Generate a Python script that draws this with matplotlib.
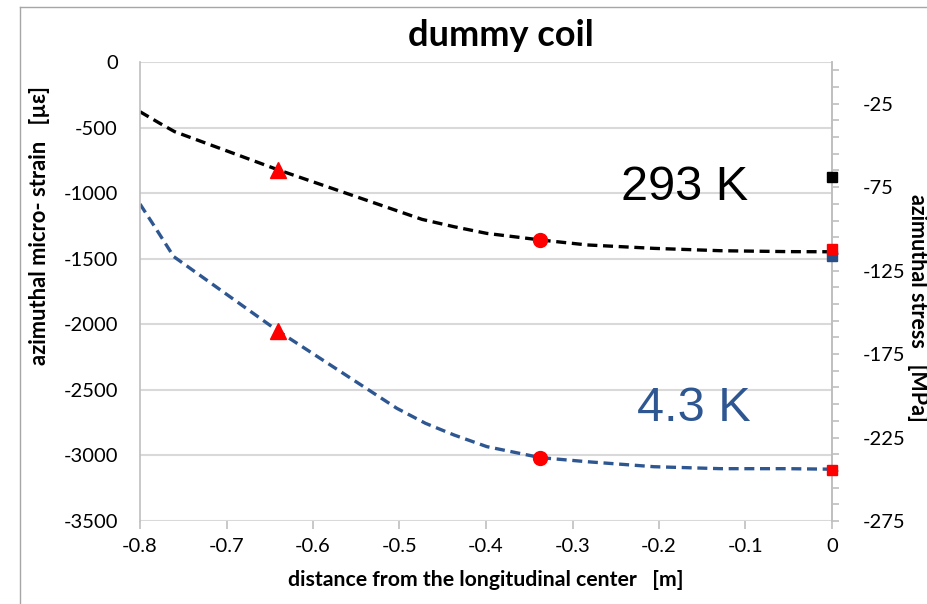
import numpy as np
import matplotlib
matplotlib.use("Agg")
import matplotlib.pyplot as plt
from matplotlib.lines import Line2D

plt.rcParams['axes.unicode_minus'] = False
plt.rcParams['font.family'] = ['Lato', 'DejaVu Sans']

# distance from the longitudinal center [m] and azimuthal micro-strain [µε]
x_293 = [-0.8, -0.777, -0.76, -0.7, -0.64, -0.55, -0.474, -0.437, -0.399,
         -0.337, -0.283, -0.206, -0.129, -0.05, 0.0]
y_293 = [-379, -468, -531, -677, -823, -1027, -1200, -1256, -1307,
         -1357, -1395, -1421, -1439, -1446, -1447]

x_43 = [-0.8, -0.783, -0.761, -0.7, -0.642, -0.57, -0.503, -0.470, -0.437,
        -0.399, -0.337, -0.283, -0.206, -0.129, -0.052, 0.0]
y_43 = [-1083, -1256, -1484, -1771, -2044, -2353, -2641, -2755, -2844,
        -2933, -3017, -3048, -3086, -3101, -3101, -3105]

# measured gauges (strain)
tri_x = [-0.641, -0.641]
tri_y = [-821, -2052]
circ_x = [-0.337, -0.337]
circ_y = [-1355, -3019]

# stresses at the center [MPa]
sq_red_mpa = [-112.2, -244.5]
sq_black_mpa = [-69.1]
sq_blue_mpa = [-116.5]

x_ticks = [-0.8, -0.7, -0.6, -0.5, -0.4, -0.3, -0.2, -0.1, 0.0]
x_tick_labels = ['-0.8', '-0.7', '-0.6', '-0.5', '-0.4', '-0.3', '-0.2', '-0.1', '0']
strain_ticks = [0, -500, -1000, -1500, -2000, -2500, -3000, -3500]
stress_labels = [-25, -75, -125, -175, -225, -275]

BLUE = '#2E5792'
RED = '#FF0000'
GRID = '#D9D9D9'
SPINE = '#BFBFBF'
DASH = (0, (3.0, 1.7))

fig = plt.figure(figsize=(9.28, 6.04), dpi=100)
ax = fig.add_axes([140/928, 1-521/604, (832-140)/928, (521-62)/604])

ax.plot(x_293, y_293, color='black', lw=2.4, ls=DASH)
ax.plot(x_43, y_43, color=BLUE, lw=2.4, ls=DASH)
ax.plot(tri_x, tri_y, ls='none', marker='^', ms=11.5, color=RED, zorder=5)
ax.plot(circ_x, circ_y, ls='none', marker='o', ms=10, color=RED, zorder=5)

ax.set_xlim(-0.8, 0.0)
ax.set_ylim(-3500, 0)
ax.set_xticks(x_ticks)
ax.set_xticklabels(x_tick_labels)
ax.set_yticks(strain_ticks)
ax.set_yticklabels([str(v) for v in strain_ticks])
ax.yaxis.grid(True, color=GRID, lw=1.5)
ax.set_axisbelow(True)
ax.tick_params(axis='y', length=0, pad=16, labelsize=14.5, colors='#000000')
ax.tick_params(axis='x', length=6, width=1.2, color=SPINE, pad=6, labelsize=14.5)
for s in ['top', 'bottom']:
    ax.spines[s].set_visible(False)
for s in ['left', 'right']:
    ax.spines[s].set_color(SPINE)
    ax.spines[s].set_linewidth(1.2)

ax2 = ax.twinx()
ax2.set_ylim(-275, 0)
ax2.set_yticks(np.arange(-275, 0, 10))
ax2.set_yticklabels([str(int(v)) if int(v) in stress_labels else ''
                     for v in np.arange(-275, 0, 10)])
ax2.tick_params(axis='y', length=5, width=1.2, color=SPINE, pad=17, labelsize=14.5)
for s in ['top', 'bottom', 'left']:
    ax2.spines[s].set_visible(False)
ax2.spines['right'].set_color(SPINE)
ax2.spines['right'].set_linewidth(1.2)

ax2.plot([0.0]*len(sq_black_mpa), sq_black_mpa, ls='none', marker='s', ms=6.5,
         color='black', clip_on=False, zorder=6)
ax2.plot([0.0]*len(sq_blue_mpa), sq_blue_mpa, ls='none', marker='s', ms=6.5,
         color='#2A4F86', clip_on=False, zorder=6)
ax2.plot([0.0]*len(sq_red_mpa), sq_red_mpa, ls='none', marker='s', ms=6.5,
         color=RED, clip_on=False, zorder=7)

ax.text(-0.170, -960, '293 K', fontsize=35, color='black',
        family='Liberation Sans', ha='center', va='center')
ax.text(-0.160, -2640, '4.3 K', fontsize=35, color=BLUE,
        family='Liberation Sans', ha='center', va='center')

fig.text(501/928, 1-36/604, 'dummy coil', fontsize=26, fontweight='bold',
         ha='center', va='center')
fig.text(486/928, 1-580/604, 'distance from the longitudinal center   [m]',
         fontsize=15.3, fontweight='bold', ha='center', va='center')
fig.text(40/928, 1-225/604, 'azimuthal micro- strain   [µε]', fontsize=15.8,
         fontweight='bold', ha='center', va='center', rotation=90)
fig.text(918/928, 1-308/604, 'azimuthal stress   [MPa]', fontsize=15.5,
         fontweight='bold', ha='center', va='center', rotation=-90)

# outer frame
fig.add_artist(Line2D([20/928, 20/928], [0, 1-7/604], color='#A6A6A6', lw=1.0))
fig.add_artist(Line2D([20/928, 1], [1-7/604, 1-7/604], color='#A6A6A6', lw=1.0))

fig.savefig('out.png', dpi=100)
